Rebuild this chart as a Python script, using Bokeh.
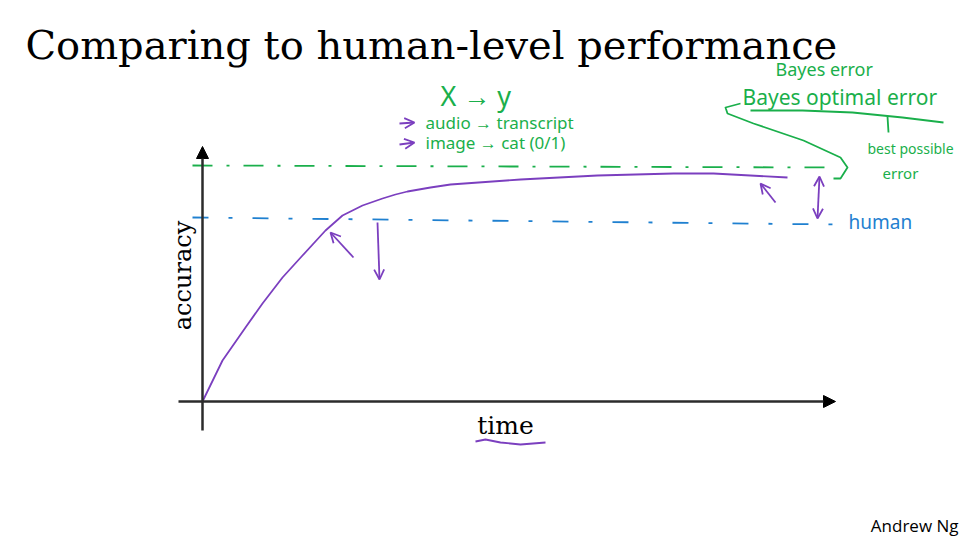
import math
from bokeh.plotting import figure
from bokeh.models import Range1d, Label, Arrow, OpenHead, NormalHead
from bokeh.embed import file_html
from bokeh.resources import INLINE

# ---- data (units: sketch units; origin at axes corner) ----
time = [0, 20, 43, 60, 80, 100, 123, 140, 160, 180, 193, 205, 228, 248, 318, 395, 471, 511, 585]
accuracy = [0, 41, 74, 98, 124, 146, 171, 186, 196, 203, 207, 210, 214, 217, 222, 226, 228, 228, 224]

ref_x = [-10, 633]
bayes_level = [236, 234]
human_level = [184, 177]

underline_x = [273, 283, 298, 318, 343]
underline_y = [-40, -38, -41, -43, -41]

bracket_x = [548, 600, 650, 700, 741]
bracket_y = [291, 291, 289, 284, 279]
curl_x = [538, 523, 525, 551, 601, 638, 645, 638, 631]
curl_y = [298, 294, 288, 278, 261, 244, 234, 223, 223]

GREEN = "#1aaf4b"
BLUE = "#1f80d0"
PURPLE = "#7b3fbf"
AXIS = "#2b2b2b"

p = figure(width=962, height=536, output_backend="svg", toolbar_location=None,
           x_range=Range1d(-202, 760), y_range=Range1d(-135, 401),
           min_border=0, background_fill_color="white", border_fill_color="white")
p.axis.visible = False
p.grid.visible = False
p.outline_line_color = None

# axes arrows
p.add_layout(Arrow(x_start=0, y_start=-29, x_end=0, y_end=255, line_color=AXIS, line_width=2.5,
                   end=NormalHead(size=12, fill_color="black", line_color="black")))
p.add_layout(Arrow(x_start=-24, y_start=0, x_end=633, y_end=0, line_color=AXIS, line_width=2.5,
                   end=NormalHead(size=12, fill_color="black", line_color="black")))

# reference lines
p.line(ref_x, bayes_level, line_color=GREEN, line_width=1.8, line_dash="20 14 3 14")
p.line(ref_x, human_level, line_color=BLUE, line_width=1.8, line_dash="16 20 4 20")

# performance curve
p.line(time, accuracy, line_color=PURPLE, line_width=1.8, line_join="round")

# purple arrows
def parrow(x0, y0, x1, y1, start=False):
    kw = {}
    if start:
        kw["start"] = OpenHead(size=10, line_color=PURPLE, line_width=1.8)
    p.add_layout(Arrow(x_start=x0, y_start=y0, x_end=x1, y_end=y1, line_color=PURPLE,
                       line_width=1.8, end=OpenHead(size=10, line_color=PURPLE, line_width=1.8), **kw))

parrow(151, 144, 128, 169)
parrow(175, 179, 177, 122)
parrow(573, 199, 558, 218)
parrow(615, 183, 617, 225, start=True)
# small purple bullets before the example lines
parrow(197, 278, 212, 279)
parrow(197, 257, 212, 259)

# underline of 'time'
p.line(underline_x, underline_y, line_color=PURPLE, line_width=1.8)

# green bracket and curl
p.line(bracket_x, bracket_y, line_color=GREEN, line_width=1.8)
p.line([685, 686], [285, 269], line_color=GREEN, line_width=1.8)
p.line(curl_x, curl_y, line_color=GREEN, line_width=1.8, line_join="round")

def lab(x, y, text, size, color="black", font="Noto Sans", align="left", baseline="middle", angle=0):
    p.add_layout(Label(x=x, y=y, text=text, text_font=font, text_font_size=f"{size}px",
                       text_color=color, text_align=align, text_baseline=baseline, angle=angle))

lab(-177, 357, "Comparing to human-level performance", 40, font="DejaVu Serif")
lab(-20, 126, "accuracy", 24, font="DejaVu Serif", align="center", angle=math.pi / 2)
lab(303, -24, "time", 25, font="DejaVu Serif", align="center")
lab(756, -124, "Andrew Ng", 17, font="Open Sans", align="right")

lab(238, 306, "X \u2192 y", 27, color=GREEN)
lab(223, 279, "audio \u2192 transcript", 17, color=GREEN)
lab(223, 259, "image \u2192 cat (0/1)", 17, color=GREEN)
lab(573, 333, "Bayes error", 18, color=GREEN)
lab(540, 305, "Bayes optimal error", 21, color=GREEN)
lab(665, 253, "best possible", 14, color=GREEN)
lab(680, 229, "error", 15, color=GREEN)
lab(646, 180, "human", 19, color=BLUE)

open("out.html", "w").write(file_html(p, INLINE))
